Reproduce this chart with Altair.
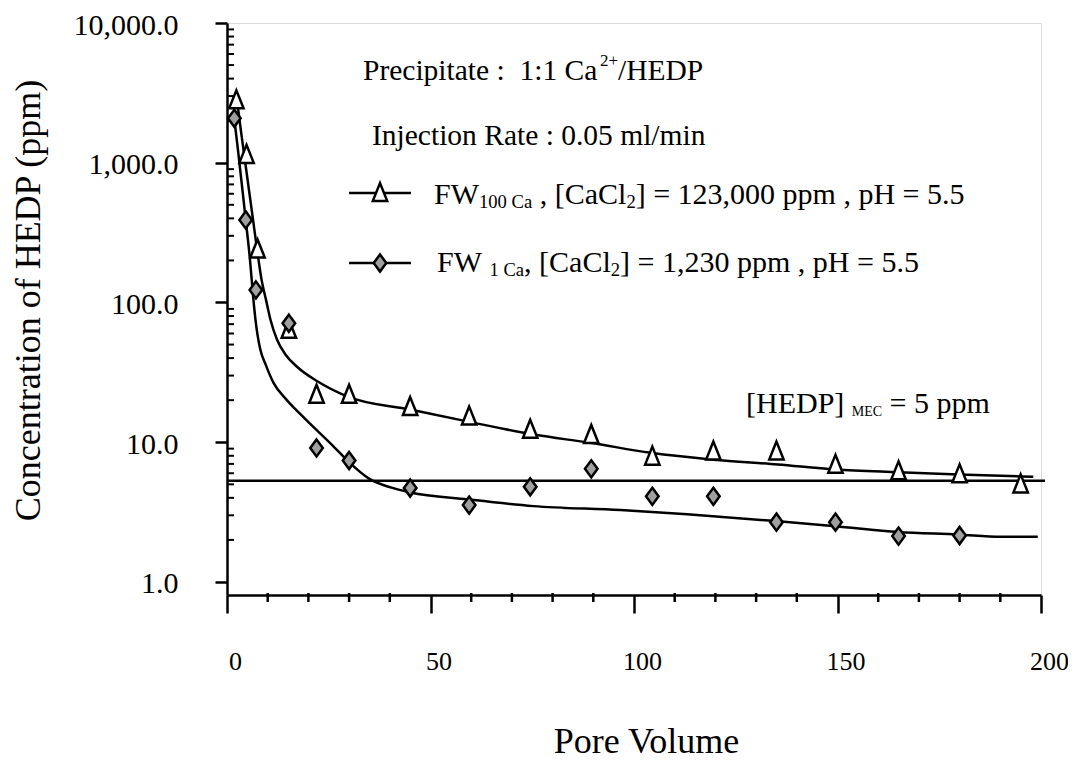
import altair as alt
import pandas as pd

# ---------------- data ----------------
# measured points, FW(100 Ca) series (open triangles)
tri_x = [2.3, 4.8, 7.5, 15.2, 22, 30, 45, 59.5, 74.5, 89.5, 104.5, 119.5, 135, 149.5, 165, 180, 195]
tri_y = [2800, 1140, 240, 64, 21.9, 21.9, 17.9, 15.3, 12.3, 11.3, 7.9, 8.6, 8.6, 6.9, 6.2, 5.9, 5.0]

# measured points, FW(1 Ca) series (grey diamonds)
dia_x = [1.8, 4.6, 7.1, 15.2, 22, 30, 45, 59.5, 74.5, 89.5, 104.5, 119.5, 135, 149.5, 165, 180]
dia_y = [2080, 390, 123, 71, 9.1, 7.4, 4.7, 3.55, 4.8, 6.45, 4.1, 4.1, 2.68, 2.68, 2.13, 2.15]

# fitted curve, FW(100 Ca)
fit100_x = [2.3, 3.4, 4.4, 5.4, 6.4, 7.4, 8.5, 9.6, 10.7, 12.3, 14.4, 17.2, 22.2, 29.5, 45.1,
            59.0, 75.4, 89.3, 104.1, 119.5, 135.3, 149.5, 165.0, 179.7, 198.1]
fit100_y = [3050, 1714, 1045, 638, 390, 238, 145, 104, 75, 54.2, 42.3, 34.7, 27.3, 21.3, 17.1,
            14.1, 11.35, 9.9, 8.4, 7.5, 6.93, 6.38, 6.1, 5.88, 5.66]

# fitted curve, FW(1 Ca)
fit1_x = [1.6, 2.7, 3.8, 4.6, 5.65, 6.5, 7.0, 7.5, 8.2, 9.5, 11.4, 14.6, 18.1, 26.2, 30.3, 34.8,
          40.2, 45.1, 59.1, 75.3, 96.7, 113.1, 134.8, 149.5, 165.0, 179.7, 190.1, 199.2]
fit1_y = [2300, 1233, 638, 390, 202, 104, 75.2, 58.7, 45.9, 35.9, 26.7, 20.2, 15.8, 9.31, 7.05,
          5.51, 4.75, 4.37, 3.9, 3.49, 3.27, 3.05, 2.73, 2.51, 2.28, 2.19, 2.11, 2.11]

# minimum effective concentration line
mec_line = [5.3]

# axis ticks
x_major = [0, 50, 100, 150, 200]
x_minor = [10, 20, 30, 40, 60, 70, 80, 90, 110, 120, 130, 140, 160, 170, 180, 190]
y_major = [1, 10, 100, 1000, 10000]
y_minor = [m * d for d in [1, 10, 100, 1000] for m in [2, 3, 4, 5, 6, 7, 8, 9]]

# ---------------- chart ----------------
FONT = "Liberation Serif"
W, H = 814, 572

xscale = alt.Scale(domain=[0, 200], nice=False, zero=False)
yscale = alt.Scale(type="log", domain=[0.807, 10000], nice=False)

xaxis = alt.Axis(values=x_major, format="d", tickSize=18, tickWidth=2.5, tickColor="black",
                 domainColor="black", domainWidth=2.5, labelFont=FONT, labelFontSize=26,
                 labelColor="black", labelOffset=8, labelPadding=35, labelFlush=False,
                 labelOverlap=False, labelBound=False, grid=False, title="Pore Volume",
                 titleFont=FONT, titleFontSize=36, titleFontWeight="normal", titleColor="black",
                 titleX=419, titleY=146, titleBaseline="middle")
yaxis = alt.Axis(values=y_major, format=",.1f", tickSize=12, tickWidth=2.5, tickColor="black",
                 domainColor="black", domainWidth=2.5, labelFont=FONT, labelFontSize=30,
                 labelColor="black", labelPadding=37, labelOffset=2, labelFlush=False,
                 labelOverlap=False, labelBound=False, grid=False,
                 title="Concentration of HEDP (ppm)",
                 titleFont=FONT, titleFontSize=36, titleFontWeight="normal", titleColor="black",
                 titleX=-199, titleY=277, titleAngle=270, titleBaseline="middle")


def X(field):
    return alt.X(field, type="quantitative", scale=xscale, axis=xaxis)


def Y(field):
    return alt.Y(field, type="quantitative", scale=yscale, axis=yaxis)


fit_df = pd.concat([
    pd.DataFrame({"x": fit100_x, "y": fit100_y, "s": "FW100"}),
    pd.DataFrame({"x": fit1_x, "y": fit1_y, "s": "FW1"}),
])
tri_df = pd.DataFrame({"x": tri_x, "y": tri_y})
dia_df = pd.DataFrame({"x": dia_x, "y": dia_y})

TRI = "M0,-1.1L-0.8,0.9L0.8,0.9Z"
DIA = "M0,-0.95L0.7,0L0,0.95L-0.7,0Z"

lines = alt.Chart(fit_df).mark_line(color="black", strokeWidth=2.5, interpolate="monotone").encode(
    x=X("x"), y=Y("y"), detail="s:N")

mec = alt.Chart(pd.DataFrame({"y": mec_line})).mark_rule(color="black", strokeWidth=2.5).encode(
    y=Y("y"), x=alt.value(0), x2=alt.value(W + 4))

tri_pts = alt.Chart(tri_df).mark_point(shape=TRI, size=324, filled=True, fill="white",
                                       stroke="black", strokeWidth=2.5, opacity=1).encode(
    x=X("x"), y=Y("y"))
dia_pts = alt.Chart(dia_df).mark_point(shape=DIA, size=324, filled=True, fill="#a0a0a0",
                                       stroke="black", strokeWidth=2.5, opacity=1).encode(
    x=X("x"), y=Y("y"))

xminor = alt.Chart(pd.DataFrame({"v": x_minor})).mark_rule(color="black", strokeWidth=2.5).encode(
    x=X("v"), y=alt.value(H - 2), y2=alt.value(H + 7))
yminor = alt.Chart(pd.DataFrame({"v": y_minor})).mark_rule(color="black", strokeWidth=2).encode(
    y=Y("v"), x=alt.value(0), x2=alt.value(7))

one = pd.DataFrame({"a": [0]})


def txt(s, x, y, size=30):
    return alt.Chart(one).mark_text(text=s, font=FONT, fontSize=size, align="left",
                                    baseline="alphabetic", color="black").encode(
        x=alt.value(x), y=alt.value(y))


def leg_line(y):
    return alt.Chart(one).mark_rule(color="black", strokeWidth=2.5).encode(
        x=alt.value(122), x2=alt.value(184), y=alt.value(y))


def leg_pt(shape, fill, y):
    return alt.Chart(one).mark_point(shape=shape, size=324, filled=True, fill=fill,
                                     stroke="black", strokeWidth=2.5, opacity=1).encode(
        x=alt.value(153), y=alt.value(y))


texts = [
    txt("Precipitate :\u00a0 1:1 Ca", 136, 57, 29.5),
    txt("2+", 373, 43, 17),
    txt("/HEDP", 391, 57, 29.5),
    txt("Injection Rate : 0.05 ml/min", 145, 122, 29.5),
    # legend row 1
    txt("FW", 207, 181),
    txt("100 Ca", 252, 185, 18.6),
    txt(", [CaCl", 312.7, 181),
    txt("2", 399.4, 185, 18.6),
    txt("] = 123,000 ppm , pH = 5.5", 408.7, 181),
    # legend row 2
    txt("FW", 210, 249),
    txt("1 Ca", 262.5, 253, 18.6),
    txt(", [CaCl", 297.1, 249),
    txt("2", 383.8, 253, 18.6),
    txt("] = 1,230 ppm , pH = 5.5", 393.1, 249),
    # MEC annotation
    txt("[HEDP]", 519, 390),
    txt("MEC", 624.8, 393, 14),
    txt("= 5 ppm", 662.6, 390),
]

legend = [leg_line(170), leg_pt(TRI, "white", 170), leg_line(240), leg_pt(DIA, "#a0a0a0", 240)]

chart = alt.layer(lines, mec, xminor, yminor, tri_pts, dia_pts, *legend, *texts).properties(
    width=W, height=H,
    autosize=alt.AutoSizeParams(type="none"),
    padding={"left": 219, "top": 15, "right": 27, "bottom": 165},
).configure_view(stroke="black", strokeWidth=2.5).configure_text(font=FONT).configure(
    background="white")

chart.save("out.html", embed_options={"renderer": "svg", "actions": False})
